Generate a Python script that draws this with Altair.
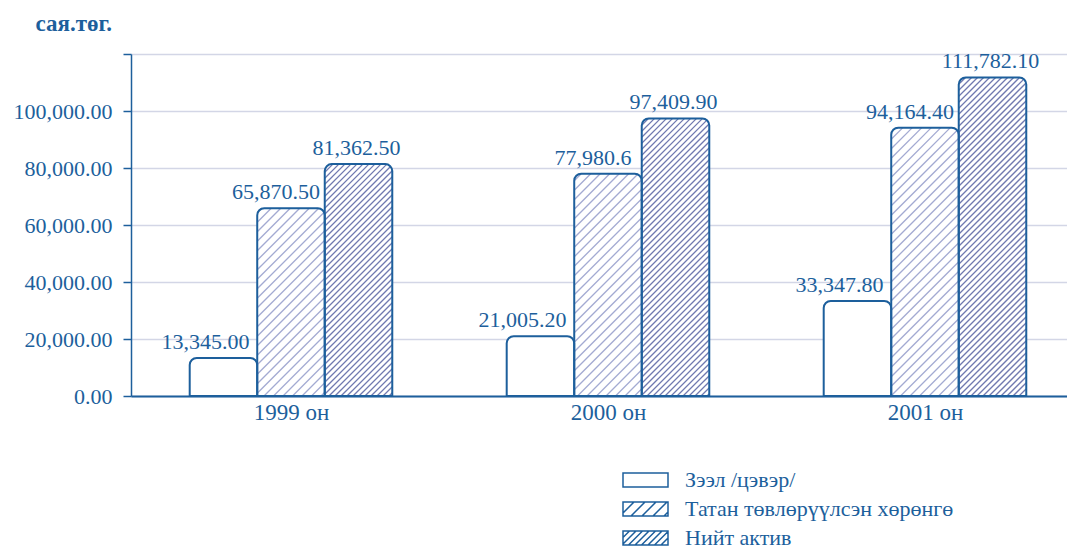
import altair as alt
import pandas as pd
import math

# ---------------- data ----------------
years = ["1999 он", "2000 он", "2001 он"]
series = ["Зээл /цэвэр/", "Татан төвлөрүүлсэн хөрөнгө", "Нийт актив"]
loan_values = [13345.00, 21005.20, 33347.80]
raised_values = [65870.50, 77980.60, 94164.40]
total_values = [81362.50, 97409.90, 111782.10]
loan_labels = ["13,345.00", "21,005.20", "33,347.80"]
raised_labels = ["65,870.50", "77,980.6", "94,164.40"]
total_labels = ["81,362.50", "97,409.90", "111,782.10"]
y_ticks = [0, 20000, 40000, 60000, 80000, 100000, 120000]

# ---------------- style ----------------
BLUE = "#1d5f9c"
GRID = "#d3d6e6"
HATCH_COLORS = ["#ffffff", "#a3aad2", "#7079b0"]
HATCH_SPACING = [0, 9.5, 6.0]    # px between hatch lines (0 = no hatch)
LABEL_SHIFT_PX = [-18, -15, -2]  # horizontal shift of value labels per series
FONT = "Liberation Serif"

W, H = 936, 342
X_DOM = [-0.5047, 2.448]
Y_MAX = 120000
BAR_W = 0.213
CORNER = 7

px_per_x = W / (X_DOM[1] - X_DOM[0])
px_per_y = H / Y_MAX

values = [loan_values, raised_values, total_values]
labels = [loan_labels, raised_labels, total_labels]

rows = []
for si, s in enumerate(series):
    for yi, yr in enumerate(years):
        xc = yi + (si - 1) * BAR_W
        rows.append(dict(series=s, year=yr, xc=xc, x0=xc - BAR_W / 2,
                         x1=xc + BAR_W / 2, value=values[si][yi],
                         label=labels[si][yi],
                         xl=xc + LABEL_SHIFT_PX[si] / px_per_x))
bars = pd.DataFrame(rows)

# hatch segments derived from the bar geometry (45 degree lines in pixel space)
hrows = []
cut = CORNER * (1 - 1 / math.sqrt(2)) * 2
for r in rows:
    si = series.index(r["series"])
    s = HATCH_SPACING[si]
    if s == 0:
        continue
    X0 = (r["x0"] - X_DOM[0]) * px_per_x
    X1 = (r["x1"] - X_DOM[0]) * px_per_x
    h = r["value"] * px_per_y
    kmin = math.floor((X0 - h) / s)
    kmax = math.ceil(X1 / s)
    for k in range(kmin, kmax + 1):
        off = k * s
        if off - X0 + h < cut:
            continue
        xa = max(X0, off)
        xb = min(X1, off + h, (X1 + h + off - cut) / 2)
        if xb - xa <= 0.3:
            continue
        hrows.append(dict(series=r["series"],
                          hx=xa / px_per_x + X_DOM[0], hx2=xb / px_per_x + X_DOM[0],
                          hy=(xa - off) / px_per_y, hy2=(xb - off) / px_per_y))
hatch = pd.DataFrame(hrows)

# legend symbol paths (rectangle + hatch lines); symbol size 400 -> 1 unit = 10 px
SYM_SIZE = 400
HW, HH = 2.25, 0.7
def sym_path(spacing):
    p = f"M-{HW},-{HH}L{HW},-{HH}L{HW},{HH}L-{HW},{HH}Z"
    if spacing:
        a = -HW - 2 * HH
        while a < HW:
            xa, xb = max(-HW, a), min(HW, a + 2 * HH)
            if xb - xa > 0.05:
                ya = HH - (xa - a)
                yb = HH - (xb - a)
                p += f"M{xa:.3f},{ya:.3f}L{xb:.3f},{yb:.3f}"
            a += spacing
    return p

sym_paths = [sym_path(0), sym_path(1.1), sym_path(0.65)]

x_label_expr = "[" + ",".join(f"'{y}'" for y in years) + "][datum.value]"

xscale = alt.Scale(domain=X_DOM, nice=False, zero=False)
yscale = alt.Scale(domain=[0, Y_MAX], nice=False)

x_axis = alt.Axis(values=[0, 1, 2], labelExpr=x_label_expr, ticks=False, grid=False,
                  domainColor=BLUE, domainWidth=2, labelFont=FONT, labelFontSize=23,
                  labelColor=BLUE, labelPadding=5, title=None)
y_axis = alt.Axis(values=y_ticks, format=",.2f",
                  labelExpr=f"datum.value >= {Y_MAX} ? '' : datum.label",
                  tickSize=8, tickColor=BLUE, tickWidth=1.5,
                  domainColor=BLUE, domainWidth=1.5,
                  gridColor=GRID, gridWidth=1.5,
                  labelFont=FONT, labelFontSize=22, labelColor=BLUE, labelPadding=11,
                  title="сая.төг.", titleAngle=0, titleAlign="left",
                  titleBaseline="alphabetic", titleX=-96, titleY=-24,
                  titleFont=FONT, titleFontSize=23, titleFontWeight="bold",
                  titleColor=BLUE)

base = alt.Chart(bars)

fill_layer = base.mark_bar(fill="white", cornerRadiusTopLeft=CORNER,
                           cornerRadiusTopRight=CORNER).encode(
    x=alt.X("x0:Q", scale=xscale, axis=x_axis),
    x2="x1:Q",
    y=alt.Y("value:Q", scale=yscale, axis=y_axis),
    y2=alt.datum(0),
)

hatch_layers = []
for si in range(len(series)):
    if HATCH_SPACING[si] == 0:
        continue
    hatch_layers.append(
        alt.Chart(hatch).transform_filter(alt.datum.series == series[si])
        .mark_rule(strokeWidth=1.3, color=HATCH_COLORS[si])
        .encode(x="hx:Q", x2="hx2:Q", y="hy:Q", y2="hy2:Q")
    )

outline_layer = base.mark_bar(fillOpacity=0, stroke=BLUE, strokeWidth=2,
                              cornerRadiusTopLeft=CORNER,
                              cornerRadiusTopRight=CORNER).encode(
    x="x0:Q", x2="x1:Q", y="value:Q", y2=alt.datum(0),
)

text_layer = base.mark_text(baseline="alphabetic", align="center", dy=-9, font=FONT,
                            fontSize=22, color=BLUE).encode(
    x="xl:Q", y="value:Q", text="label:N",
)

legend_layer = alt.Chart(pd.DataFrame({"series": series})).mark_point(
    filled=False, color=BLUE, size=SYM_SIZE, strokeWidth=1.5, opacity=0
).encode(
    shape=alt.Shape("series:N",
                    scale=alt.Scale(domain=series, range=sym_paths),
                    legend=alt.Legend(title=None, orient="none", legendX=503.5,
                                      legendY=415, direction="vertical",
                                      labelFont=FONT, labelFontSize=22,
                                      labelColor=BLUE, labelOffset=28.5,
                                      rowPadding=7, symbolSize=SYM_SIZE,
                                      symbolStrokeWidth=1.5,
                                      symbolStrokeColor=BLUE,
                                      symbolOpacity=1,
                                      labelLimit=400)),
)

chart = alt.layer(fill_layer, *hatch_layers, outline_layer, text_layer,
                  legend_layer).properties(
    width=W, height=H,
    autosize=alt.AutoSizeParams(type="none"),
    padding={"left": 123, "top": 46, "right": 0, "bottom": 172},
).configure_view(stroke=None)

chart.save("out.html", embed_options={"renderer": "svg", "actions": False})
